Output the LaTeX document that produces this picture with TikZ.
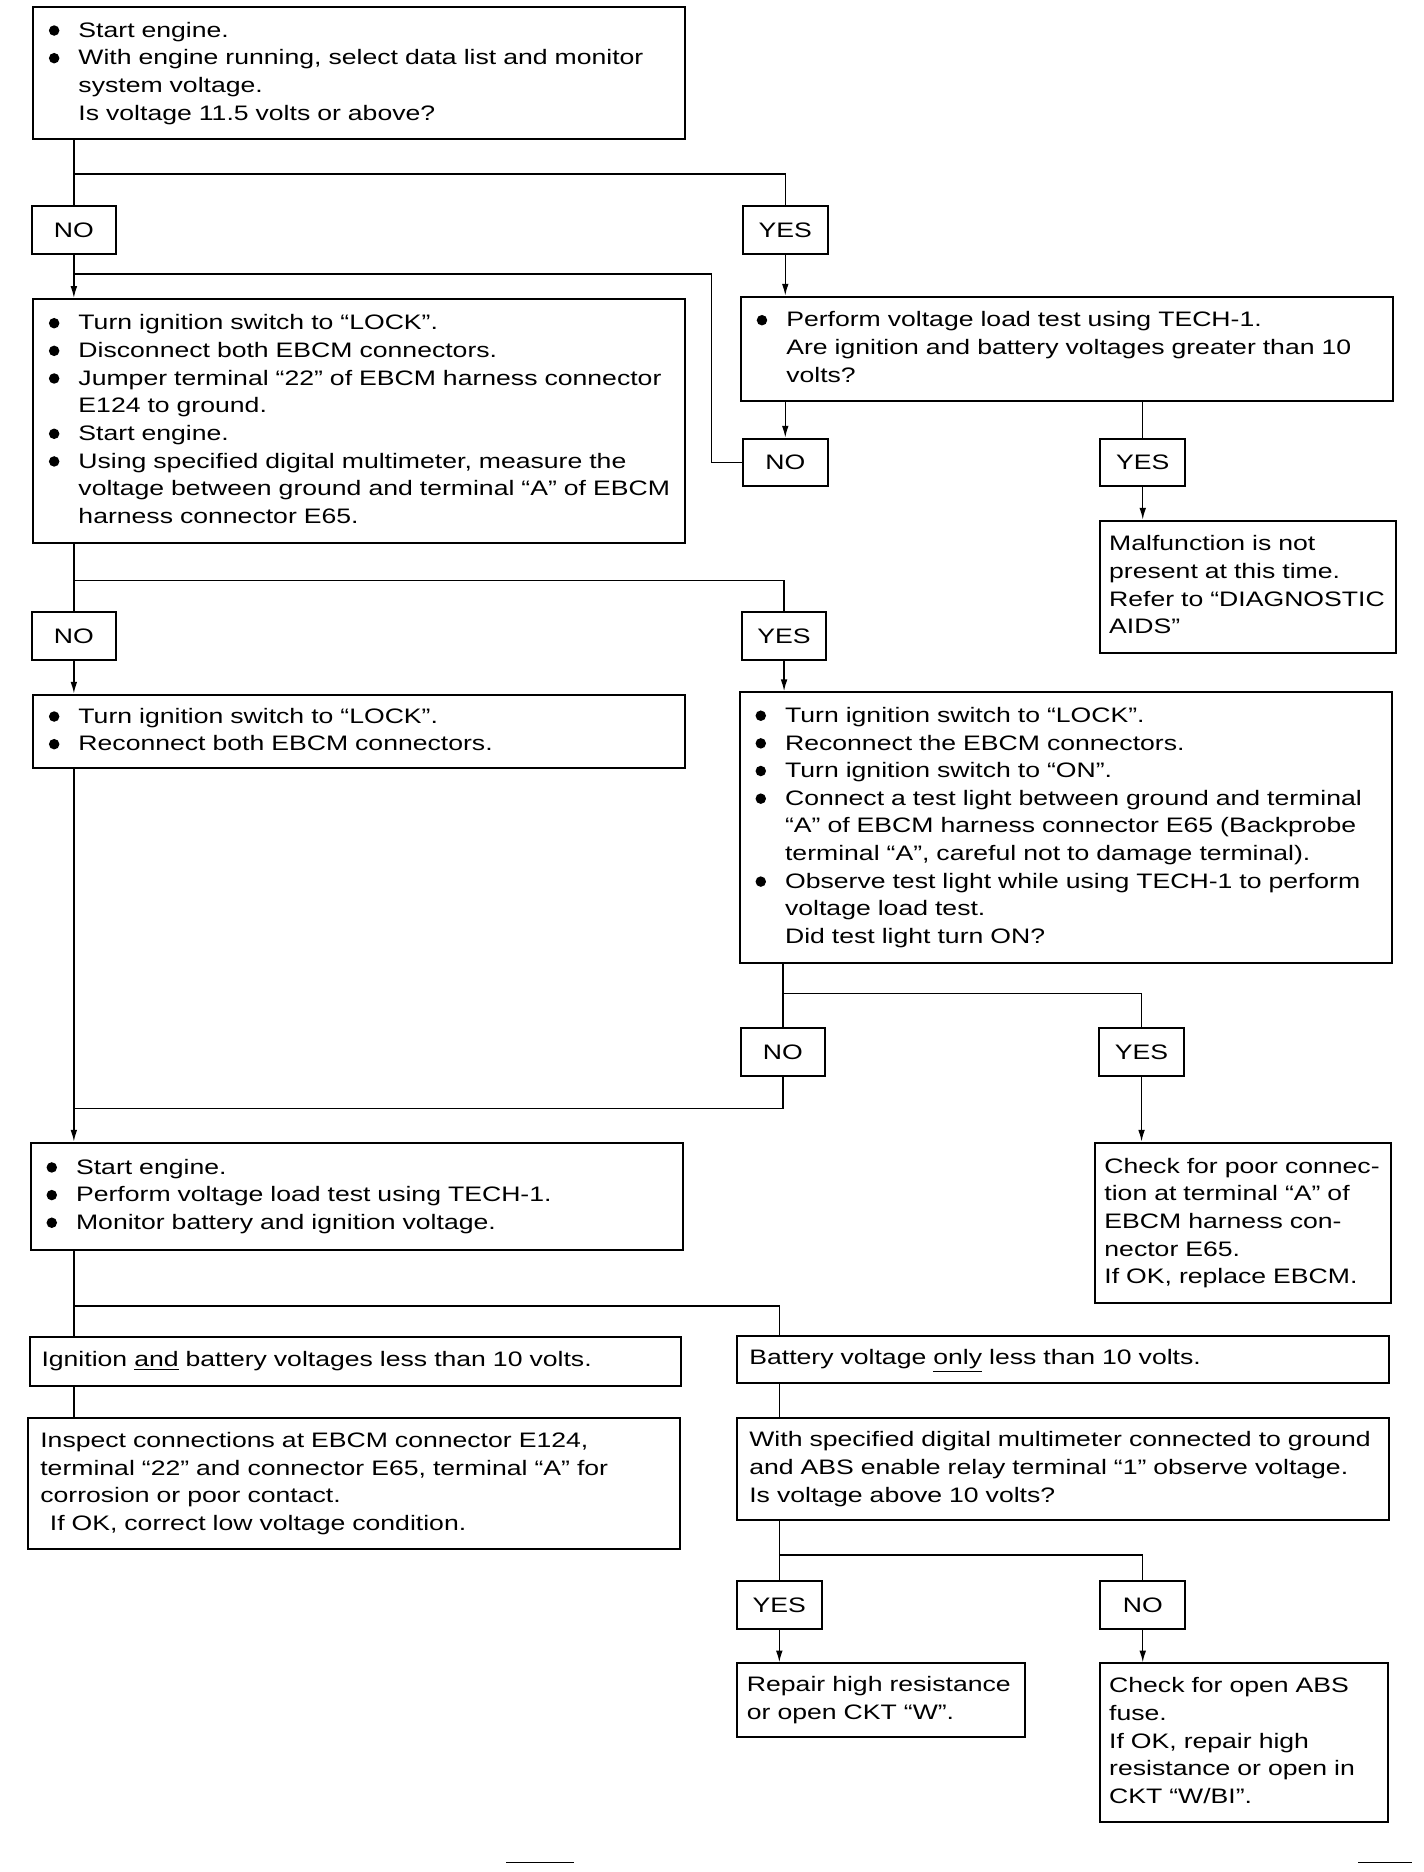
\documentclass[tikz,border=0pt]{standalone}
\usepackage{fontspec}
\setmainfont{Liberation Sans}[FakeStretch=1.27]
\usetikzlibrary{positioning, arrows.meta, calc}

\newcommand{\bul}{\makebox[0.7cm][l]{\hspace{0.08cm}\tikz[baseline=-0.6ex]\fill (0,0) circle (0.11cm);}}
\newcommand{\ind}{\hspace*{0.7cm}}
\newcommand{\boxlines}[1]{\begin{tabular}{@{}l@{}}#1\end{tabular}}

\tikzset{
  box/.style={draw, line width=1.2pt, anchor=north west, inner xsep=0.25cm,
    inner ysep=0pt, align=left, font=\fontsize{12.5}{16.5}\selectfont},
  wide/.style={box, text width=13.17cm},
  narrow/.style={box, inner xsep=0.2cm, text width=5.82cm},
  small/.style={box, inner xsep=0.2cm, text width=5.64cm},
  answer/.style={draw, line width=1.2pt, minimum width=1.775cm, minimum height=1cm,
    inner sep=0pt, font=\fontsize{12.5}{16.5}\selectfont},
  line/.style={line width=0.8pt},
  arr/.style={line, -{Latex[length=7pt,width=4pt]}}
}

\begin{document}
\begin{tikzpicture}[x=0.025cm, y=-0.025cm]
  \useasboundingbox (0,0) rectangle (1195,1571);

  % Draw the step boxes
  \node[wide, minimum height=2.775cm] (start) at (27,5) {\boxlines{%
    \bul Start engine.\\
    \bul With engine running, select data list and monitor\\
    \ind system voltage.\\
    \ind Is voltage 11.5 volts or above?}};
  \node[wide, minimum height=5.125cm] (lock1) at (27,250) {\boxlines{%
    \bul Turn ignition switch to “LOCK”.\\
    \bul Disconnect both EBCM connectors.\\
    \bul Jumper terminal “22” of EBCM harness connector\\
    \ind E124 to ground.\\
    \bul Start engine.\\
    \bul Using specified digital multimeter, measure the\\
    \ind voltage between ground and terminal “A” of EBCM\\
    \ind harness connector E65.}};
  \node[wide, minimum height=2.2cm] (load) at (621,248) {\boxlines{%
    \bul Perform voltage load test using TECH-1.\\
    \ind Are ignition and battery voltages greater than 10\\
    \ind volts?}};
  \node[narrow, minimum height=2.775cm] (okbox) at (922,436) {\boxlines{%
    Malfunction is not\\
    present at this time.\\
    Refer to “DIAGNOSTIC\\
    AIDS”}};
  \node[wide, minimum height=1.55cm] (reconn) at (27,582) {\boxlines{%
    \bul Turn ignition switch to “LOCK”.\\
    \bul Reconnect both EBCM connectors.}};
  \node[wide, minimum height=5.675cm] (light) at (620,580) {\boxlines{%
    \bul Turn ignition switch to “LOCK”.\\
    \bul Reconnect the EBCM connectors.\\
    \bul Turn ignition switch to “ON”.\\
    \bul Connect a test light between ground and terminal\\
    \ind “A” of EBCM harness connector E65 (Backprobe\\
    \ind terminal “A”, careful not to damage terminal).\\
    \bul Observe test light while using TECH-1 to perform\\
    \ind voltage load test.\\
    \ind Did test light turn ON?}};
  \node[narrow, minimum height=3.375cm] (poor) at (918,958) {\boxlines{%
    Check for poor connec-\\
    tion at terminal “A” of\\
    EBCM harness con-\\
    nector E65.\\
    If OK, replace EBCM.}};
  \node[wide, minimum height=2.25cm] (monitor) at (25,958) {\boxlines{%
    \bul Start engine.\\
    \bul Perform voltage load test using TECH-1.\\
    \bul Monitor battery and ignition voltage.}};
  \node[wide, minimum height=1.025cm] (both) at (24,1121) {\boxlines{%
    Ignition \underline{and} battery voltages less than 10 volts.}};
  \node[wide, minimum height=1.0cm] (batt) at (618,1120) {\boxlines{%
    Battery voltage \underline{only} less than 10 volts.}};
  \node[wide, minimum height=2.75cm] (inspect) at (23,1189) {\boxlines{%
    Inspect connections at EBCM connector E124,\\
    terminal “22” and connector E65, terminal “A” for\\
    corrosion or poor contact.\\
    \hspace*{0.2cm}If OK, correct low voltage condition.}};
  \node[wide, minimum height=2.15cm] (relay) at (618,1189) {\boxlines{%
    With specified digital multimeter connected to ground\\
    and ABS enable relay terminal “1” observe voltage.\\
    Is voltage above 10 volts?}};
  \node[small, minimum height=1.55cm] (repair) at (618,1395) {\boxlines{%
    Repair high resistance\\
    or open CKT “W”.}};
  \node[small, minimum height=3.325cm] (fuse) at (922,1395) {\boxlines{%
    Check for open ABS\\
    fuse.\\
    If OK, repair high\\
    resistance or open in\\
    CKT “W/BI”.}};

  % Draw the answers
  \node[answer] (no1) at (62,193) {NO};
  \node[answer] (yes1) at (659,193) {YES};
  \node[answer] (no2) at (659,388) {NO};
  \node[answer] (yes2) at (959,388) {YES};
  \node[answer] (no3) at (62,534) {NO};
  \node[answer] (yes3) at (658,534) {YES};
  \node[answer] (no4) at (657,883) {NO};
  \node[answer] (yes4) at (958,883) {YES};
  \node[answer] (yes5) at (654,1347) {YES};
  \node[answer] (no5) at (959,1347) {NO};

  % First question
  \coordinate (split1) at (62,146);
  \draw[line] (start.south -| no1) -- (no1.north);
  \draw[line] (split1) -| (yes1.north);
  \draw[arr] (no1.south) -- (no1.south |- lock1.north);
  \draw[arr] (yes1.south) -- (yes1.south |- load.north);

  % Load test, NO goes back
  \coordinate (back1) at (597,230);
  \draw[line] (no2.west) -| (back1) -- (back1 -| no1);
  \draw[arr] (load.south -| no2) -- (no2.north);
  \draw[line] (load.south -| yes2) -- (yes2.north);
  \draw[arr] (yes2.south) -- (yes2.south |- okbox.north);

  % Voltage at terminal A
  \coordinate (split2) at (62,487);
  \draw[line] (lock1.south -| no3) -- (no3.north);
  \draw[line] (split2) -| (yes3.north);
  \draw[arr] (no3.south) -- (no3.south |- reconn.north);
  \draw[arr] (yes3.south) -- (yes3.south |- light.north);

  % Test light
  \coordinate (split3) at (657,834);
  \coordinate (back2) at (62,930);
  \draw[line] (light.south -| no4) -- (no4.north);
  \draw[line] (split3) -| (yes4.north);
  \draw[arr] (yes4.south) -- (yes4.south |- poor.north);
  \draw[line] (no4.south) |- (back2);
  \draw[arr] (reconn.south -| no3) -- (monitor.north -| no3);

  % Battery and ignition voltage
  \coordinate (split4) at (62,1096);
  \draw[line] (monitor.south -| no3) -- (both.north -| no3);
  \draw[line] (split4) -| (batt.north -| yes5);
  \draw[line] (both.south -| no3) -- (inspect.north -| no3);
  \draw[line] (batt.south -| yes5) -- (relay.north -| yes5);

  % Relay voltage
  \coordinate (split5) at (654,1305);
  \draw[line] (relay.south -| yes5) -- (yes5.north);
  \draw[line] (split5) -| (no5.north);
  \draw[arr] (yes5.south) -- (yes5.south |- repair.north);
  \draw[arr] (no5.south) -- (no5.south |- fuse.north);

  % Marks at the foot of the page
  \draw[line width=1pt] (425,1563) -- (482,1563);
  \draw[line width=1pt] (1140,1563) -- (1185,1563);
\end{tikzpicture}
\end{document}
